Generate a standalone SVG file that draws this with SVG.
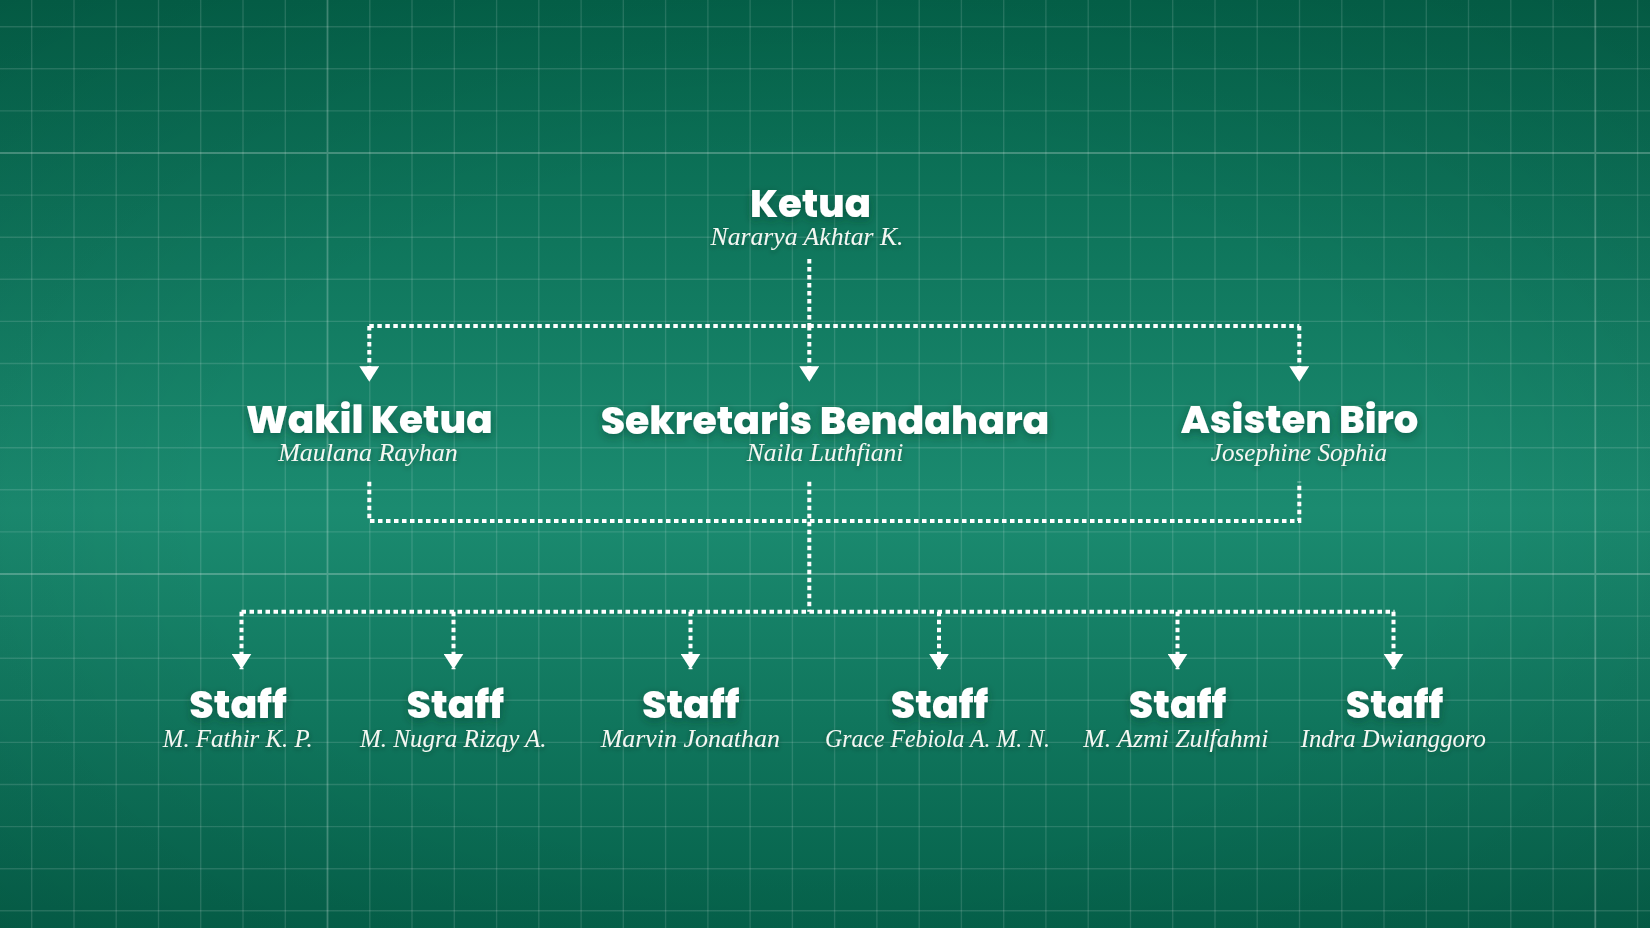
<svg xmlns="http://www.w3.org/2000/svg" width="1650" height="928" viewBox="0 0 1650 928">
<defs>
<linearGradient id="bg" x1="0" y1="0" x2="0" y2="1">
<stop offset="0" stop-color="#04634a"/>
<stop offset="0.55" stop-color="#1b8b70"/>
<stop offset="1" stop-color="#05614a"/>
</linearGradient>
<radialGradient id="vig" cx="0.5" cy="0.55" r="0.75">
<stop offset="0.5" stop-color="#000" stop-opacity="0"/>
<stop offset="1" stop-color="#000" stop-opacity="0.1"/>
</radialGradient>
<filter id="sh" x="-20%" y="-40%" width="140%" height="190%">
<feDropShadow dx="0" dy="3" stdDeviation="4" flood-color="#003322" flood-opacity="0.45"/>
</filter>
<filter id="sh2" x="-20%" y="-40%" width="140%" height="190%">
<feDropShadow dx="0" dy="2" stdDeviation="2.5" flood-color="#003322" flood-opacity="0.4"/>
</filter>
<marker id="arr" markerUnits="userSpaceOnUse" markerWidth="16" markerHeight="20" refX="14" refY="9" orient="auto" viewBox="0 0 14 18">
<path d="M0,0 L14,9 L0,18 Z" fill="#ffffff"/>
</marker>
<style>
.grid{stroke:#ffffff;stroke-opacity:0.13;stroke-width:1.4;fill:none}
.major{stroke:#ffffff;stroke-opacity:0.24;stroke-width:1.8;fill:none}
.con{stroke:#ffffff;stroke-width:4;stroke-dasharray:4.5 3.5;fill:none}
.title{font-family:Poppins,Inter,"Noto Sans",sans-serif;font-weight:800;font-size:38px;fill:#ffffff;text-anchor:middle;filter:url(#sh)}
.name{font-family:"Liberation Serif","DejaVu Serif",serif;font-style:italic;font-size:25px;fill:#f4f7f2;text-anchor:middle;filter:url(#sh2)}
</style>
</defs>
<rect width="1650" height="928" fill="url(#bg)"/>
<rect width="1650" height="928" fill="url(#vig)"/>
<g id="grid">
<path class="grid" d="M31.7,0V928M74,0V928M116.2,0V928M158.5,0V928M200.7,0V928M243,0V928M285.3,0V928M369.8,0V928M412,0V928M454.3,0V928M496.6,0V928M538.8,0V928M581.1,0V928M623.3,0V928M665.6,0V928M707.9,0V928M750.1,0V928M792.4,0V928M834.6,0V928M876.9,0V928M919.2,0V928M961.4,0V928M1003.7,0V928M1045.9,0V928M1088.2,0V928M1130.5,0V928M1172.7,0V928M1215,0V928M1257.2,0V928M1299.5,0V928M1341.8,0V928M1384,0V928M1426.3,0V928M1468.5,0V928M1510.8,0V928M1553.1,0V928M1637.6,0V928"/>
<path class="grid" d="M0,26.7H1650M0,68.8H1650M0,110.9H1650M0,195.1H1650M0,237.2H1650M0,279.3H1650M0,321.4H1650M0,363.5H1650M0,405.6H1650M0,447.7H1650M0,489.8H1650M0,531.9H1650M0,616.1H1650M0,658.2H1650M0,700.3H1650M0,742.4H1650M0,784.5H1650M0,826.6H1650M0,868.7H1650M0,910.8H1650"/>
<path class="major" d="M327.5,0V928M1595.3,0V928M0,153H1650M0,574H1650"/>
</g>
<g id="connectors">
<path class="con" d="M809.3,259V326"/>
<path class="con" d="M369.3,326H1299.3"/>
<path class="con" d="M809.3,326V381.7" marker-end="url(#arr)"/>
<path class="con" d="M369.3,326V381.7" marker-end="url(#arr)"/>
<path class="con" d="M1299.3,326V381.7" marker-end="url(#arr)"/>
<path class="con" d="M369.3,481.7V521H1299.3V481.7"/>
<path class="con" d="M809.3,481.7V611.7"/>
<path class="con" d="M241.5,611.7H1394.5"/>
<path class="con" d="M241.5,611.7V669.3" marker-end="url(#arr)"/>
<path class="con" d="M453.5,611.7V669.3" marker-end="url(#arr)"/>
<path class="con" d="M690.5,611.7V669.3" marker-end="url(#arr)"/>
<path class="con" d="M939,611.7V669.3" marker-end="url(#arr)"/>
<path class="con" d="M1177.5,611.7V669.3" marker-end="url(#arr)"/>
<path class="con" d="M1393.5,611.7V669.3" marker-end="url(#arr)"/>
</g>
<g id="ketua">
<text class="title" x="810.5" y="217" textLength="121" lengthAdjust="spacingAndGlyphs">Ketua</text>
<text class="name" x="807" y="245" textLength="193" lengthAdjust="spacingAndGlyphs">Nararya Akhtar K.</text>
</g>
<g id="wakil-ketua">
<text class="title" x="369.3" y="433" textLength="246.7" lengthAdjust="spacingAndGlyphs">Wakil Ketua</text>
<text class="name" x="368" y="460.7" textLength="179.7" lengthAdjust="spacingAndGlyphs">Maulana Rayhan</text>
</g>
<g id="sekretaris-bendahara">
<text class="title" x="825" y="434" textLength="448.7" lengthAdjust="spacingAndGlyphs">Sekretaris Bendahara</text>
<text class="name" x="825" y="461" textLength="156.7" lengthAdjust="spacingAndGlyphs">Naila Luthfiani</text>
</g>
<g id="asisten-biro">
<text class="title" x="1299.5" y="433" textLength="237.6" lengthAdjust="spacingAndGlyphs">Asisten Biro</text>
<text class="name" x="1299" y="460.7" textLength="176.3" lengthAdjust="spacingAndGlyphs">Josephine Sophia</text>
</g>
<g id="staff-1">
<text class="title" x="238" y="718.3" textLength="97.4" lengthAdjust="spacingAndGlyphs">Staff</text>
<text class="name" x="237.7" y="746.7" textLength="150" lengthAdjust="spacingAndGlyphs">M. Fathir K. P.</text>
</g>
<g id="staff-2">
<text class="title" x="455.3" y="718.3" textLength="97.4" lengthAdjust="spacingAndGlyphs">Staff</text>
<text class="name" x="453.3" y="746.7" textLength="186.7" lengthAdjust="spacingAndGlyphs">M. Nugra Rizqy A.</text>
</g>
<g id="staff-3">
<text class="title" x="690.7" y="718.3" textLength="97.4" lengthAdjust="spacingAndGlyphs">Staff</text>
<text class="name" x="690.3" y="746.7" textLength="179.3" lengthAdjust="spacingAndGlyphs">Marvin Jonathan</text>
</g>
<g id="staff-4">
<text class="title" x="939.5" y="718.3" textLength="97.4" lengthAdjust="spacingAndGlyphs">Staff</text>
<text class="name" x="937.5" y="746.7" textLength="225" lengthAdjust="spacingAndGlyphs">Grace Febiola A. M. N.</text>
</g>
<g id="staff-5">
<text class="title" x="1177.5" y="718.3" textLength="97.4" lengthAdjust="spacingAndGlyphs">Staff</text>
<text class="name" x="1175.8" y="746.7" textLength="185" lengthAdjust="spacingAndGlyphs">M. Azmi Zulfahmi</text>
</g>
<g id="staff-6">
<text class="title" x="1394.5" y="718.3" textLength="97.4" lengthAdjust="spacingAndGlyphs">Staff</text>
<text class="name" x="1393.3" y="746.7" textLength="185.3" lengthAdjust="spacingAndGlyphs">Indra Dwianggoro</text>
</g>
</svg>
